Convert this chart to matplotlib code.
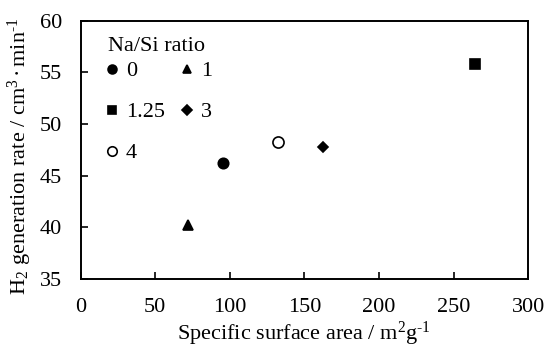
import matplotlib
matplotlib.use("Agg")
import matplotlib.pyplot as plt

plt.rcParams["font.family"] = "Liberation Serif"
plt.rcParams["mathtext.fontset"] = "custom"
plt.rcParams["mathtext.rm"] = "Liberation Serif"
plt.rcParams["mathtext.it"] = "Liberation Serif:italic"
plt.rcParams["font.size"] = 16

# Na/Si ratio samples (legend order: column-wise)
labels = ["0", "1.25", "4", "1", "3"]
surface_area = [95.2, 264.5, 132.3, 72.2, 162.3]
h2_rate = [46.2, 55.8, 48.3, 40.2, 47.8]
markers = ["o", "s", "o", "^", "D"]
filled = [True, True, False, True, True]
sizes = [7.5, 7.5, 8.0, 7.5, 5.5]

fig = plt.figure(figsize=(5.45, 3.47), dpi=100)
ax = fig.add_axes([0.148, 0.196, 0.821, 0.744])

for lab, x, y, m, f, s in zip(labels, surface_area, h2_rate, markers, filled, sizes):
    ax.plot([x], [y], linestyle="none", marker=m, markersize=s,
            markerfacecolor="black" if f else "white",
            markeredgecolor="black", markeredgewidth=1.2, label=lab)

ax.set_xlim(0, 300)
ax.set_ylim(35, 60)
ax.set_xticks(range(0, 301, 50))
ax.set_yticks(range(35, 61, 5))
ax.tick_params(direction="in", length=5, width=1.2)
ax.tick_params(axis="x", pad=14)
ax.tick_params(axis="y", pad=13.5)
for sp in ax.spines.values():
    sp.set_linewidth(1.4)

ax.set_xlabel("Specific surface area / m$^{2}$g$^{\\text{-1}}$")
ax.set_ylabel("H$_{2}$ generation rate / cm$^{3}$$\\,$\u00b7$\\,$min$^{\\text{-1}}$")
ax.xaxis.set_label_coords(0.5, -0.16)
ax.yaxis.set_label_coords(-0.105, 0.475)

ax.text(0.061, 0.884, "Na/Si ratio", transform=ax.transAxes, ha="left", va="baseline")
ax.legend(ncol=2, frameon=False, loc="upper left",
          bbox_to_anchor=(0.056, 0.845), borderpad=0, borderaxespad=0,
          handlelength=0.6, handletextpad=0.3, columnspacing=0.72,
          labelspacing=0.92, markerscale=0.85, fontsize=16)

fig.savefig("out.png", dpi=100)
